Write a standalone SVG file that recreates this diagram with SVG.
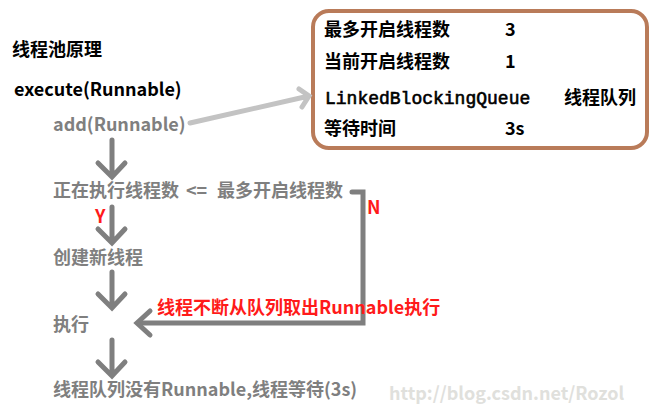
<svg xmlns="http://www.w3.org/2000/svg" width="661" height="413" viewBox="0 0 661 413">
<style>
text{font-family:"Noto Sans CJK SC","Liberation Sans",sans-serif;font-weight:bold;font-size:18px}
.blk{fill:#000}
.gry{fill:#7f7f7f}
.red{fill:#ff1a1a}
.mono{font-family:"Liberation Mono","DejaVu Sans Mono",monospace;font-weight:normal;font-size:18px;stroke:#000;stroke-width:0.6}
.conn{fill:none;stroke:#7f7f7f;stroke-width:5;stroke-linecap:round;stroke-linejoin:miter}
.light{fill:none;stroke:#c3c3c3;stroke-width:5;stroke-linecap:round}
</style>
<rect width="661" height="413" fill="#fff"/>
<g id="title"><text class="blk" x="12" y="56">线程池原理</text></g>
<g id="execute"><text class="blk" x="14" y="96">execute(Runnable)</text></g>
<g id="add"><text class="gry" x="53" y="131">add(Runnable)</text></g>
<g id="queue-box">
<rect x="313" y="11" width="334" height="137" rx="16" fill="#fff" stroke="#b97b59" stroke-width="4"/>
<text class="blk" x="324" y="36">最多开启线程数</text>
<text class="blk" x="505" y="36">3</text>
<text class="blk" x="324" y="68">当前开启线程数</text>
<text class="blk" x="505" y="68">1</text>
<text class="blk mono" x="325" y="104">LinkedBlockingQueue</text>
<text class="blk" x="564" y="104">线程队列</text>
<text class="blk" x="324" y="135">等待时间</text>
<text class="blk" x="505" y="135">3s</text>
</g>
<g id="check"><text class="gry" x="53" y="197">正在执行线程数<tspan x="186">&lt;=</tspan><tspan x="217">最多开启线程数</tspan></text></g>
<g id="create"><text class="gry" x="53" y="264">创建新线程</text></g>
<g id="run"><text class="gry" x="53" y="331">执行</text></g>
<g id="wait"><text class="gry" x="53" y="396">线程队列没有Runnable,线程等待(3s)</text></g>
<g id="connectors">
<path class="light" d="M190 123 L309 96 M299 89 L309 96 L302 107"/>
<path class="conn" d="M112 140 V176 M98 163 L112 177 L125 163"/>
<path class="conn" d="M112 207 V242 M98 229 L112 243 L125 229"/>
<path class="conn" d="M112 272 V307 M98 294 L112 308 L125 294"/>
<path class="conn" d="M112 340 V375 M98 362 L112 376 L125 362"/>
<path class="conn" stroke-linecap="butt" d="M352 192 H363 V323 H138"/>
<path class="conn" d="M150 311 L137 323 L150 335"/>
<text class="red" x="95" y="223">Y</text>
<text class="red" x="367" y="214">N</text>
<text class="red" x="157" y="314">线程不断从队列取出Runnable执行</text>
</g>
<text x="389" y="400" font-family="Liberation Mono,monospace" font-weight="normal" font-size="16.5" fill="#e0e0dc">http://blog.csdn.net/Rozol</text>
</svg>
